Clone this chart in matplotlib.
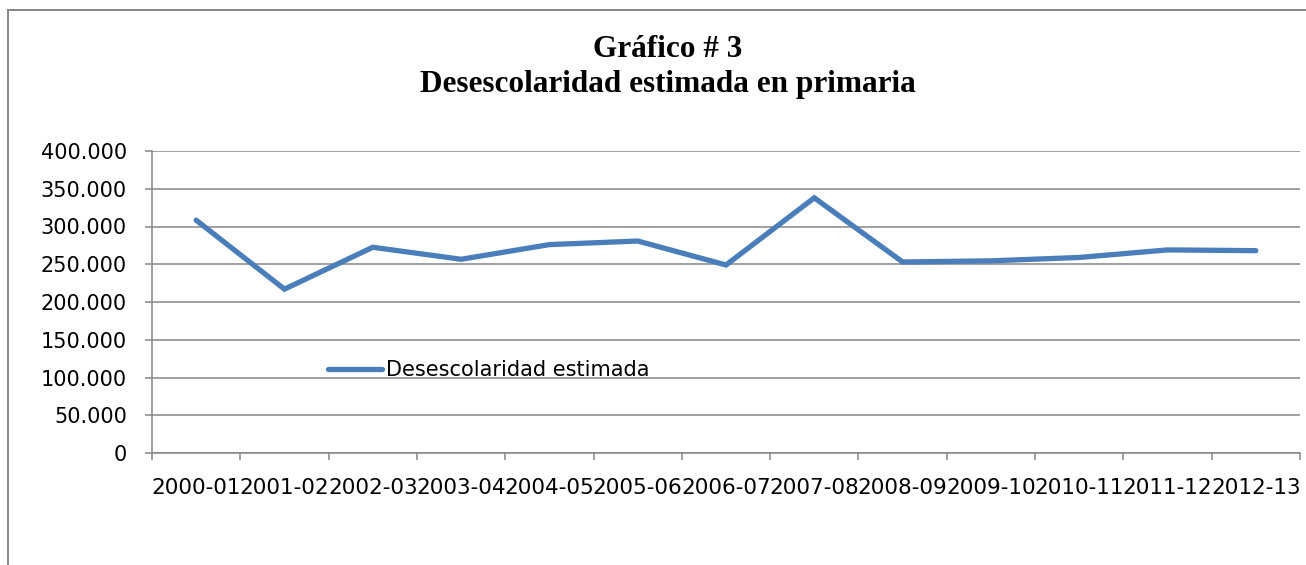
import numpy as np
import matplotlib
matplotlib.use('Agg')
import matplotlib.pyplot as plt
from matplotlib.ticker import FuncFormatter, FixedLocator
from matplotlib.lines import Line2D

# data
periodos = ['2000-01', '2001-02', '2002-03', '2003-04', '2004-05', '2005-06', '2006-07',
            '2007-08', '2008-09', '2009-10', '2010-11', '2011-12', '2012-13']
desescolaridad = [308400, 217000, 272500, 256600, 276000, 280800, 249000,
                  338000, 253000, 254500, 259000, 269000, 268000]
yticks = [0, 50000, 100000, 150000, 200000, 250000, 300000, 350000, 400000]

grey = '#868686'
blue = '#4A7EBB'

fig = plt.figure(figsize=(13.06, 5.65), dpi=100)
ax = fig.add_axes([152/1306, 1 - 453/565, 1148/1306, 302/565])

x = np.arange(len(periodos))
ax.plot(x, desescolaridad, color=blue, lw=3.8, solid_joinstyle='miter',
        solid_capstyle='round', label='Desescolaridad estimada', zorder=3)

ax.set_xlim(-0.5, len(periodos) - 0.5)
ax.set_ylim(0, 400000)
ax.set_yticks(yticks)
ax.yaxis.set_major_formatter(FuncFormatter(
    lambda v, p: '0' if v == 0 else '{:,.0f}'.format(v).replace(',', '.')))
ax.grid(axis='y', color=grey, lw=1.1)
ax.set_axisbelow(True)

ax.set_xticks(x)
ax.set_xticklabels(periodos)
ax.xaxis.set_minor_locator(FixedLocator(np.arange(-0.5, len(periodos), 1.0)))
ax.tick_params(axis='x', which='major', length=0, pad=18, labelsize=15.5)
ax.tick_params(axis='x', which='minor', length=5, width=1.1, color=grey)
ax.tick_params(axis='y', length=5, width=1.1, color=grey, pad=13, labelsize=15)

for s in ['top', 'right']:
    ax.spines[s].set_visible(False)
for s in ['left', 'bottom']:
    ax.spines[s].set_color(grey)
    ax.spines[s].set_linewidth(1.1)

ax.legend(loc='center left', bbox_to_anchor=(0.153, 0.275), frameon=False,
          fontsize=15, handlelength=2.6, handletextpad=0.2, borderpad=0,
          borderaxespad=0)

fig.text(668/1306, 1 - 67/565, 'Gráfico # 3\nDesescolaridad estimada en primaria',
         ha='center', va='center', family='Liberation Serif', fontweight='bold',
         fontsize=22.5, linespacing=1.3)

# chart border
fig.add_artist(Line2D([8/1306, 8/1306], [0, 1 - 10/565], color=grey, lw=1.4,
                      transform=fig.transFigure))
fig.add_artist(Line2D([8/1306, 1], [1 - 10/565, 1 - 10/565], color=grey, lw=1.4,
                      transform=fig.transFigure))

fig.savefig('out.png', dpi=100)
